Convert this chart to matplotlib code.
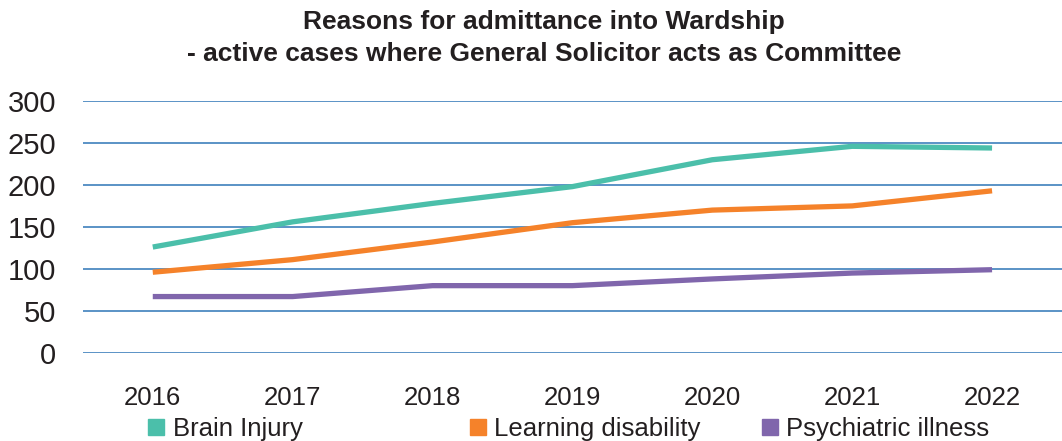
import matplotlib.pyplot as plt
from matplotlib.lines import Line2D

years = ['2016', '2017', '2018', '2019', '2020', '2021', '2022']
brain_injury = [126, 156, 178, 198, 230, 246, 244]
learning_disability = [96, 111, 132, 155, 170, 175, 193]
psychiatric_illness = [67, 67, 80, 80, 88, 95, 99]

series = [
    ('Brain Injury', brain_injury, '#4bbfaa'),
    ('Learning disability', learning_disability, '#f5822a'),
    ('Psychiatric illness', psychiatric_illness, '#8066ac'),
]

plt.rcParams['font.family'] = ['Liberation Sans', 'DejaVu Sans']
text_col = '#231f20'

fig = plt.figure(figsize=(10.62, 4.41), dpi=100)
ax = fig.add_axes([0.078, 0.2, 0.922, 0.571])

x = list(range(len(years)))
for name, vals, col in series:
    ax.plot(x, vals, color=col, lw=3.8, solid_capstyle='butt', zorder=3)

ax.set_xlim(-0.5, len(years) - 0.5)
ax.set_ylim(0, 300)
ax.set_yticks(range(0, 301, 50))
ax.set_xticks(x)
ax.set_xticklabels(years)
ax.yaxis.grid(True, color='#2e75b6', lw=1.1)
ax.set_axisbelow(True)
for s in ax.spines.values():
    s.set_visible(False)
ax.tick_params(axis='y', length=0, pad=19, labelsize=21, labelcolor=text_col)
ax.tick_params(axis='x', length=0, pad=24, labelsize=18.5, labelcolor=text_col)

fig.text(0.512, 0.978, 'Reasons for admittance into Wardship\n- active cases where General Solicitor acts as Committee',
         ha='center', va='top', fontsize=19, fontweight='bold', color=text_col, linespacing=1.45)

# legend entries placed individually
lefts = [0.125, 0.428, 0.703]
for (name, vals, col), lx in zip(series, lefts):
    h = Line2D([], [], marker='s', ls='none', color=col, markersize=12)
    fig.legend([h], [name], loc='center left', bbox_to_anchor=(lx, 0.027),
               frameon=False, fontsize=18.5, handletextpad=0.15, borderaxespad=0,
               handlelength=1.0, labelcolor=text_col)

fig.savefig('out.png', dpi=100)
